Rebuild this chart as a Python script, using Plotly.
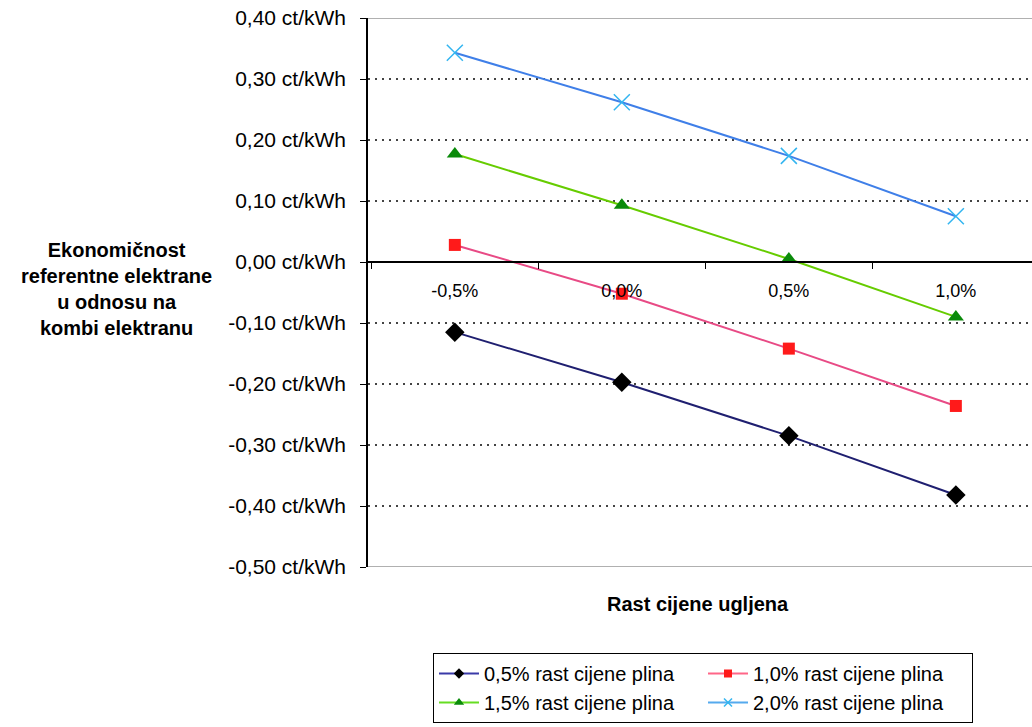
import plotly.graph_objects as go

categories = ["-0,5%", "0,0%", "0,5%", "1,0%"]
series_names = ["0,5% rast cijene plina", "1,0% rast cijene plina",
                "1,5% rast cijene plina", "2,0% rast cijene plina"]
s05 = [-0.115, -0.197, -0.285, -0.382]
s10 = [0.028, -0.052, -0.142, -0.236]
s15 = [0.177, 0.093, 0.005, -0.090]
s20 = [0.343, 0.262, 0.174, 0.075]
y_ticks = [0.4, 0.3, 0.2, 0.1, 0.0, -0.1, -0.2, -0.3, -0.4, -0.5]
y_ticktext = ["0,40 ct/kWh", "0,30 ct/kWh", "0,20 ct/kWh", "0,10 ct/kWh", "0,00 ct/kWh",
              "-0,10 ct/kWh", "-0,20 ct/kWh", "-0,30 ct/kWh", "-0,40 ct/kWh", "-0,50 ct/kWh"]

line_colors = ["#1f1f70", "#e84a85", "#66cc00", "#3f7fe8"]
legend_line_colors = ["#3a3aa8", "#ff6688", "#66dd22", "#55aaee"]
marker_colors = ["#000000", "#ff1a1a", "#0a8a0a", "#33b5f0"]
symbols = ["diamond", "square", "triangle-up", "x-thin-open"]
sizes = [15, 12, 14, 16]
legend_sizes = [8, 8, 9, 8]

fig = go.Figure()
for i, (name, vals) in enumerate(zip(series_names, [s05, s10, s15, s20])):
    mk = dict(symbol=symbols[i], size=sizes[i], color=marker_colors[i])
    if symbols[i].startswith("x"):
        mk["line"] = dict(width=1.5, color=marker_colors[i])
    fig.add_trace(go.Scatter(x=categories, y=vals, name=name, mode="lines+markers",
                             line=dict(color=line_colors[i], width=2), marker=mk,
                             showlegend=False, legendgroup=name))
for i, name in enumerate(series_names):
    mk = dict(symbol=symbols[i], size=legend_sizes[i], color=marker_colors[i])
    if symbols[i].startswith("x"):
        mk["line"] = dict(width=1.5, color=marker_colors[i])
    fig.add_trace(go.Scatter(x=[None], y=[None], name=name, mode="lines+markers",
                             line=dict(color=legend_line_colors[i], width=2), marker=mk,
                             showlegend=True, legendgroup=name))

ymin, ymax = -0.5, 0.4
fig.update_layout(
    width=1032, height=727,
    margin=dict(l=368, r=0, t=18, b=160, autoexpand=False),
    paper_bgcolor="white", plot_bgcolor="white",
    font=dict(family="Arial", color="black"),
    showlegend=True,
    legend=dict(orientation="h", x=(433 - 368) / 664, xanchor="left", y=-(653 - 567) / 549,
                yanchor="top", bordercolor="black", borderwidth=1, font=dict(size=20),
                entrywidth=214, entrywidthmode="pixels", traceorder="normal",
                itemwidth=40),
    xaxis=dict(type="category", range=[-0.52, 3.456], anchor="free",
               position=(0 - ymin) / (ymax - ymin),
               showline=True, linecolor="black", linewidth=1.5,
               ticks="outside", tickson="boundaries", ticklen=6, tickcolor="black",
               showgrid=False, tickfont=dict(size=18), ticklabelstandoff=13),
    yaxis=dict(range=[ymin, ymax], tickvals=y_ticks, ticktext=y_ticktext,
               showline=True, linecolor="black", linewidth=1.5,
               ticks="outside", ticklen=6, tickcolor="black",
               showgrid=True, gridcolor="#444444", griddash="2px,5px", gridwidth=1.5,
               zeroline=False, tickfont=dict(size=21), ticklabelstandoff=10),
)

# top and bottom plot-area borders
for yv in (ymax, ymin):
    fig.add_shape(type="line", xref="paper", yref="y", x0=0, x1=1, y0=yv, y1=yv,
                  line=dict(color="#b0b0b0", width=2))

fig.add_annotation(text="<b>Ekonomičnost<br>referentne elektrane<br>u odnosu na<br>kombi elektranu</b>",
                   xref="paper", yref="paper", x=(116 - 368) / 664, y=(567 - 289) / 549,
                   xanchor="center", yanchor="middle",
                   showarrow=False, font=dict(size=20), align="center")
fig.add_annotation(text="<b>Rast cijene ugljena</b>", xref="paper", yref="paper",
                   x=(698 - 368) / 664, y=-(604 - 567) / 549, xanchor="center", yanchor="middle",
                   showarrow=False, font=dict(size=20))

fig.write_html("out.html")
